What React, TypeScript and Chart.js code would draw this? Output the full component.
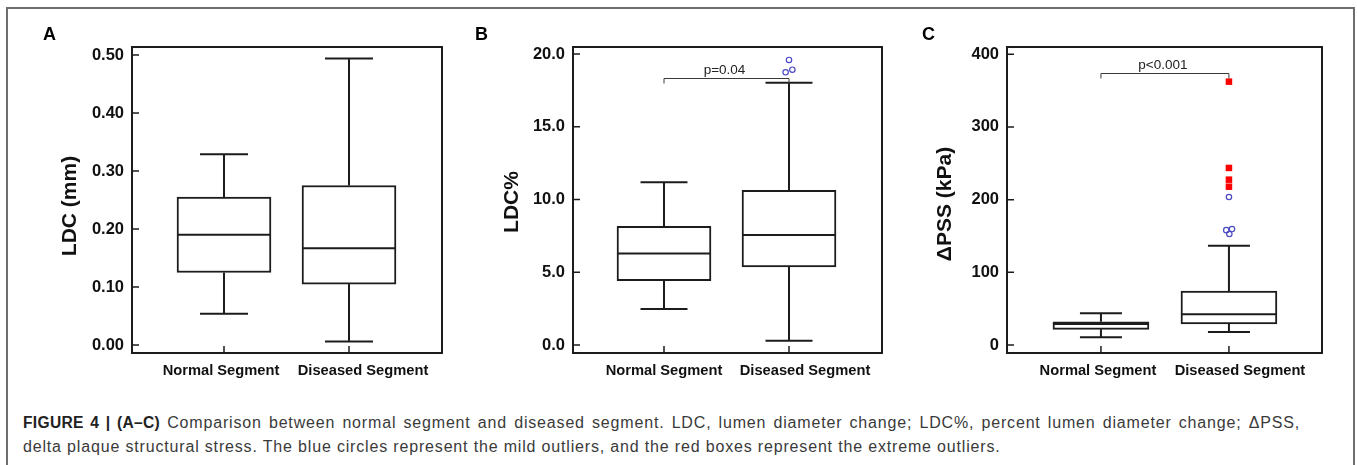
import React, { useEffect, useRef } from 'react';
import { Chart, registerables } from 'chart.js';

Chart.register(...registerables);

// ---------- data ----------
const categories = ['Normal Segment', 'Diseased Segment'];
const categoryPositions = [0, 1];

// Panel A: LDC (mm)
const ldcTicks = [0, 0.1, 0.2, 0.3, 0.4, 0.5];
const ldcMin = [0.054, 0.006];
const ldcQ1 = [0.125, 0.105];
const ldcMedian = [0.19, 0.167];
const ldcQ3 = [0.255, 0.275];
const ldcMax = [0.329, 0.494];

// Panel B: LDC%
const pctTicks = [0, 5, 10, 15, 20];
const pctMin = [2.47, 0.3];
const pctQ1 = [4.42, 5.36];
const pctMedian = [6.28, 7.56];
const pctQ3 = [8.16, 10.63];
const pctMax = [11.18, 18.02];
const pctMildOutliers = [19.59, 18.92, 18.74];
const pctMildJitter = [0, 0.027, -0.027];
const pctPValue = 'p=0.04';
const pctBracketLevel = 18.33;

// Panel C: ΔPSS (kPa)
const pssTicks = [0, 100, 200, 300, 400];
const pssMin = [10.6, 17.9];
const pssQ1 = [21.6, 28.9];
const pssMedian = [28.9, 42.2];
const pssQ3 = [32.0, 74.3];
const pssMax = [43.6, 136.6];
const pssMildOutliers = [203.6, 158.0, 159.5, 152.7];
const pssMildJitter = [0, -0.021, 0.024, 0.003];
const pssExtremeOutliers = [362.3, 243.6, 227.5, 217.8];
const pssPValue = 'p<0.001';
const pssBracketLevel = 374.7;

// ---------- styling / layout ----------
const INK = '#1c1c1c';
const FONT = '"Liberation Sans", Arial, Helvetica, sans-serif';

const panels = [
  {
    key: 'A', letter: 'A', letterX: 43,
    canvas: { left: 10, top: 10, width: 440, height: 378 },
    area: { left: 132, top: 47, right: 442, bottom: 353 },
    xMin: -0.736, xMax: 1.744, labelShift: [-3, 14],
    yMin: -0.0138, yMax: 0.5138, ticks: ldcTicks, decimals: 2,
    title: 'LDC (mm)', titleX: 70, titleY: 206,
    min: ldcMin, q1: ldcQ1, med: ldcMedian, q3: ldcQ3, max: ldcMax,
    boxWidth: 94, capWidth: 48,
    mild: null, mildJitter: null, extreme: null, pValue: null, bracket: null,
  },
  {
    key: 'B', letter: 'B', letterX: 475,
    canvas: { left: 450, top: 10, width: 440, height: 378 },
    area: { left: 573, top: 47, right: 882, bottom: 353 },
    xMin: -0.728, xMax: 1.744, labelShift: [0, 16],
    yMin: -0.55, yMax: 20.48, ticks: pctTicks, decimals: 1,
    title: 'LDC%', titleX: 512, titleY: 202,
    min: pctMin, q1: pctQ1, med: pctMedian, q3: pctQ3, max: pctMax,
    boxWidth: 94, capWidth: 47,
    mild: pctMildOutliers, mildJitter: pctMildJitter, extreme: null,
    pValue: pctPValue, bracket: pctBracketLevel,
  },
  {
    key: 'C', letter: 'C', letterX: 922,
    canvas: { left: 890, top: 10, width: 460, height: 378 },
    area: { left: 1007, top: 47, right: 1322, bottom: 353 },
    xMin: -0.734, xMax: 1.727, labelShift: [-3, 11],
    yMin: -11.0, yMax: 410.0, ticks: pssTicks, decimals: 0,
    title: '\u0394PSS (kPa)', titleX: 945, titleY: 204,
    min: pssMin, q1: pssQ1, med: pssMedian, q3: pssQ3, max: pssMax,
    boxWidth: 96, capWidth: 42,
    mild: pssMildOutliers, mildJitter: pssMildJitter, extreme: pssExtremeOutliers,
    pValue: pssPValue, bracket: pssBracketLevel,
  },
];

const boxDecor = {
  id: 'boxDecor',
  afterDatasetsDraw(chart: any, _args: any, opts: any) {
    const p = opts.panel;
    if (!p) return;
    const ctx = chart.ctx;
    const xs = chart.scales.x;
    const ys = chart.scales.y;
    const ca = chart.chartArea;
    const meta = chart.getDatasetMeta(0);
    const c = p.canvas;
    ctx.save();
    ctx.strokeStyle = INK;
    ctx.lineWidth = 2;
    ctx.lineCap = 'butt';
    categoryPositions.forEach((cx: number, i: number) => {
      const x = xs.getPixelForValue(cx);
      const bar = meta.data[i];
      const half = bar ? bar.width / 2 : p.boxWidth / 2;
      const yMed = ys.getPixelForValue(p.med[i]);
      const yQ1 = ys.getPixelForValue(p.q1[i]);
      const yQ3 = ys.getPixelForValue(p.q3[i]);
      const yMin = ys.getPixelForValue(p.min[i]);
      const yMax = ys.getPixelForValue(p.max[i]);
      const cap = p.capWidth / 2;
      ctx.beginPath();
      ctx.moveTo(x, yQ3); ctx.lineTo(x, yMax);
      ctx.moveTo(x - cap, yMax); ctx.lineTo(x + cap, yMax);
      ctx.moveTo(x, yQ1); ctx.lineTo(x, yMin);
      ctx.moveTo(x - cap, yMin); ctx.lineTo(x + cap, yMin);
      ctx.moveTo(x - half, yMed); ctx.lineTo(x + half, yMed);
      ctx.stroke();
    });
    ctx.strokeRect(ca.left, ca.top, ca.right - ca.left, ca.bottom - ca.top);
    ctx.lineWidth = 1.5;
    ctx.beginPath();
    p.ticks.forEach((t: number) => {
      const y = ys.getPixelForValue(t);
      ctx.moveTo(ca.left, y); ctx.lineTo(ca.left + 7, y);
    });
    categoryPositions.forEach((cx: number) => {
      const x = xs.getPixelForValue(cx);
      ctx.moveTo(x, ca.bottom); ctx.lineTo(x, ca.bottom - 7);
    });
    ctx.stroke();
    // category labels
    ctx.fillStyle = '#111';
    ctx.font = 'bold 14.7px ' + FONT;
    ctx.textAlign = 'center';
    ctx.textBaseline = 'alphabetic';
    categoryPositions.forEach((cx: number, i: number) => {
      const x = xs.getPixelForValue(cx) + p.labelShift[i];
      ctx.fillText(categories[i], x, 375 - c.top);
    });
    if (p.bracket !== null) {
      const y = Math.round(ys.getPixelForValue(p.bracket)) + 0.5;
      const x0 = xs.getPixelForValue(categoryPositions[0]);
      const x1 = xs.getPixelForValue(categoryPositions[1]);
      ctx.strokeStyle = '#3a3a3a';
      ctx.lineWidth = 1;
      ctx.beginPath();
      ctx.moveTo(x0, y + 5); ctx.lineTo(x0, y); ctx.lineTo(x1, y); ctx.lineTo(x1, y + 5);
      ctx.stroke();
      ctx.fillStyle = '#222';
      ctx.font = '13.5px ' + FONT;
      ctx.textAlign = 'center';
      ctx.textBaseline = 'alphabetic';
      ctx.fillText(p.pValue, (x0 + x1) / 2 - 2, y - 5);
    }
    ctx.fillStyle = '#000';
    ctx.font = 'bold 18px ' + FONT;
    ctx.textAlign = 'left';
    ctx.textBaseline = 'alphabetic';
    ctx.fillText(p.letter, p.letterX - c.left, 40 - c.top);
    ctx.save();
    ctx.translate(p.titleX - c.left, p.titleY - c.top);
    ctx.rotate(-Math.PI / 2);
    ctx.font = 'bold 21px ' + FONT;
    ctx.textAlign = 'center';
    ctx.textBaseline = 'middle';
    ctx.fillStyle = '#111';
    ctx.fillText(p.title, 0, 0);
    ctx.restore();
    ctx.restore();
  },
};

function buildConfig(p: any) {
  const c = p.canvas;
  const datasets: any[] = [
    {
      type: 'bar',
      data: categoryPositions.map((x, i) => ({ x, y: [p.q1[i], p.q3[i]] })),
      backgroundColor: '#ffffff',
      borderColor: INK,
      borderWidth: 2,
      borderSkipped: false,
      barThickness: p.boxWidth,
      order: 3,
    },
  ];
  if (p.mild) {
    datasets.push({
      type: 'scatter',
      data: p.mild.map((v: number, i: number) => ({ x: categoryPositions[1] + p.mildJitter[i], y: v })),
      pointStyle: 'circle',
      pointRadius: 2.7,
      borderColor: '#4a4ac4',
      backgroundColor: 'rgba(255,255,255,0)',
      borderWidth: 1.2,
      order: 1,
    });
  }
  if (p.extreme) {
    datasets.push({
      type: 'scatter',
      data: p.extreme.map((v: number) => ({ x: categoryPositions[1], y: v })),
      pointStyle: 'rect',
      pointRadius: 4.6,
      borderColor: '#ff0000',
      backgroundColor: '#ff0000',
      borderWidth: 0,
      order: 1,
    });
  }
  return {
    type: 'bar',
    data: { datasets },
    plugins: [boxDecor],
    options: {
      animation: false,
      responsive: false,
      maintainAspectRatio: false,
      events: [],
      layout: {
        padding: {
          top: p.area.top - c.top,
          right: c.left + c.width - p.area.right,
          left: 0,
          bottom: 0,
        },
      },
      plugins: {
        legend: { display: false },
        tooltip: { enabled: false },
        title: { display: false },
        boxDecor: { panel: p },
      },
      scales: {
        x: {
          type: 'linear',
          offset: false,
          grace: 0,
          min: p.xMin,
          max: p.xMax,
          afterBuildTicks: (s: any) => { s.ticks = categoryPositions.map((v) => ({ value: v })); },
          afterFit: (s: any) => { s.height = c.top + c.height - p.area.bottom; },
          grid: { display: false, drawTicks: false, offset: false },
          border: { display: false },
          ticks: { display: false },
        },
        y: {
          type: 'linear',
          min: p.yMin,
          max: p.yMax,
          afterBuildTicks: (s: any) => { s.ticks = p.ticks.map((v: number) => ({ value: v })); },
          afterFit: (s: any) => { s.width = p.area.left - c.left; },
          grid: { display: false, drawTicks: false },
          border: { display: false },
          ticks: {
            padding: 8,
            color: '#111',
            font: { family: FONT, size: 16.5, weight: 'bold' },
            callback: (v: any) => Number(v).toFixed(p.decimals),
          },
        },
      },
    },
  };
}

function Panel({ p }: { p: any }) {
  const ref = useRef<HTMLCanvasElement | null>(null);
  useEffect(() => {
    if (!ref.current) return;
    const chart = new Chart(ref.current, buildConfig(p) as any);
    return () => chart.destroy();
  }, [p]);
  const c = p.canvas;
  return (
    <canvas
      ref={ref}
      width={c.width}
      height={c.height}
      style={{ position: 'absolute', left: c.left, top: c.top, width: c.width, height: c.height, display: 'block' }}
    />
  );
}

const captionLine1Bold = 'FIGURE 4 | (A\u2013C)';
const captionLine1 = ' Comparison between normal segment and diseased segment. LDC, lumen diameter change; LDC%, percent lumen diameter change; \u0394PSS,';
const captionLine2 = 'delta plaque structural stress. The blue circles represent the mild outliers, and the red boxes represent the extreme outliers.';

export default function App() {
  const captionStyle: React.CSSProperties = {
    position: 'absolute',
    left: 23,
    fontFamily: FONT,
    fontSize: 16,
    letterSpacing: '0.83px',
    color: '#3a3a3a',
    whiteSpace: 'nowrap',
    lineHeight: '18px',
  };
  return (
    <div style={{ position: 'absolute', left: 0, top: 0, width: 1357, height: 465, overflow: 'hidden', background: '#fff' }}>
      <div style={{ position: 'absolute', left: 6, top: 7, width: 1349, height: 480, border: '2px solid #6e6e6e', boxSizing: 'border-box' }} />
      {panels.map((p) => <Panel key={p.key} p={p} />)}
      <div style={{ ...captionStyle, top: 414, width: 1277, textAlign: 'justify', textAlignLast: 'justify', whiteSpace: 'normal', height: 18, overflow: 'hidden' }}>
        <b style={{ fontSize: 15.6, letterSpacing: '0.3px', color: '#222' }}>{captionLine1Bold}</b>{captionLine1}
      </div>
      <div style={{ ...captionStyle, top: 438 }}>{captionLine2}</div>
    </div>
  );
}
